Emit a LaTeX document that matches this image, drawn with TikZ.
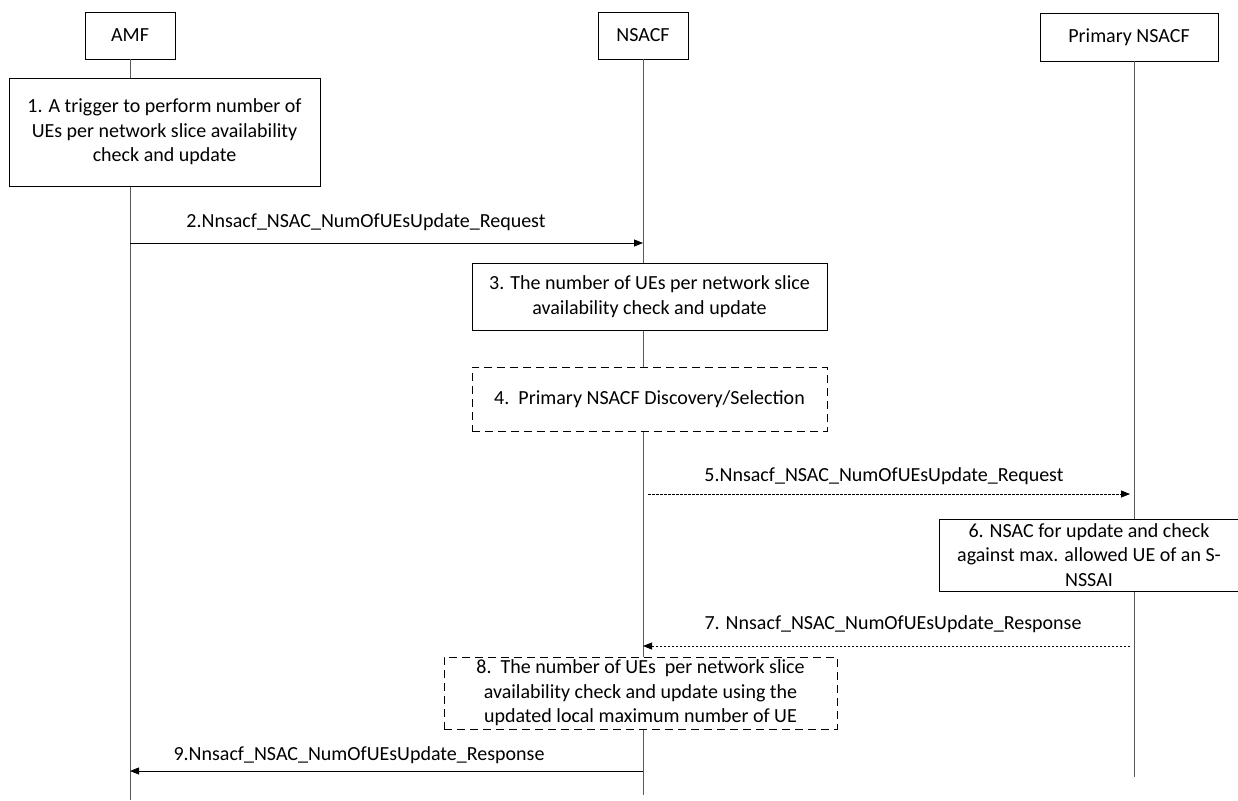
\documentclass[tikz,border=0pt]{standalone}
\usepackage{fontspec}
\setmainfont{Carlito}
\usetikzlibrary{arrows.meta}
\begin{document}
\begin{tikzpicture}[x=1pt,y=-1pt,
  every node/.style={font=\fontsize{20}{24.5}\selectfont, align=center, inner sep=0pt},
  actor/.style={draw=black, line width=0.9pt, fill=white, minimum height=47pt},
  stepbox/.style={draw=black, line width=0.9pt, fill=white},
  dashbox/.style={draw=black, line width=0.9pt, fill=white, dash pattern=on 8pt off 5pt},
  life/.style={draw=black!65, line width=0.9pt},
  msg/.style={draw=black, line width=0.8pt, -{Triangle[length=9pt,width=7pt]}},
  dmsg/.style={msg, dash pattern=on 2.5pt off 1.5pt},
  lbl/.style={anchor=center}]
\useasboundingbox (0,0) rectangle (1238,800);
% actors
\node[actor, minimum width=90pt] (amf) at (130,35.5) {AMF};
\node[actor, minimum width=90pt] (nsacf) at (643,35.5) {NSACF};
\node[actor, minimum width=178pt, minimum height=48pt] (prim) at (1129,37) {Primary NSACF};
\coordinate (amfend) at (130,800);
\coordinate (nsend) at (643,795);
\coordinate (ptop) at (1134,61);
\coordinate (pend) at (1134,777);
% lifelines
\draw[life] (amf.south) -- (amfend);
\draw[life] (nsacf.south) -- (nsend);
\draw[life] (ptop) -- (pend);
% boxes
\node[stepbox, minimum width=311pt, minimum height=108pt] (b1) at (164.5,132) {1. A trigger to perform number of\\UEs per network slice availability\\check and update};
\node[stepbox, minimum width=355pt, minimum height=67pt] (b3) at (649.5,296.5) {3. The number of UEs per network slice\\availability check and update};
\node[dashbox, minimum width=355pt, minimum height=64pt] (b4) at (649.5,399) {4.\ \ Primary NSACF Discovery/Selection};
\node[stepbox, minimum width=300pt, minimum height=72pt] (b6) at (1089,555) {6. NSAC for update and check\\against max. allowed UE of an S-\\NSSAI};
\node[dashbox, minimum width=393pt, minimum height=72pt] (b8) at (640.5,693) {8.\ \ The number of UEs\ \ per network slice\\availability check and update using the\\updated local maximum number of UE};
% messages
\coordinate (m2s) at (130,243); \coordinate (m2e) at (643,243);
\coordinate (m5s) at (648,494); \coordinate (m5e) at (1130,494);
\coordinate (m7s) at (1130,646); \coordinate (m7e) at (643,646);
\coordinate (m9s) at (643,771); \coordinate (m9e) at (130,771);
\draw[msg] (m2s) -- (m2e);
\draw[dmsg] (m5s) -- (m5e);
\draw[dmsg] (m7s) -- (m7e);
\draw[msg] (m9s) -- (m9e);
\node[lbl] (l2) at (366,222) {2.Nnsacf\_NSAC\_NumOfUEsUpdate\_Request};
\node[lbl] (l5) at (884,476) {5.Nnsacf\_NSAC\_NumOfUEsUpdate\_Request};
\node[lbl] (l7) at (893,624) {7. Nnsacf\_NSAC\_NumOfUEsUpdate\_Response};
\node[lbl] (l9) at (359,755) {9.Nnsacf\_NSAC\_NumOfUEsUpdate\_Response};
\end{tikzpicture}
\end{document}
